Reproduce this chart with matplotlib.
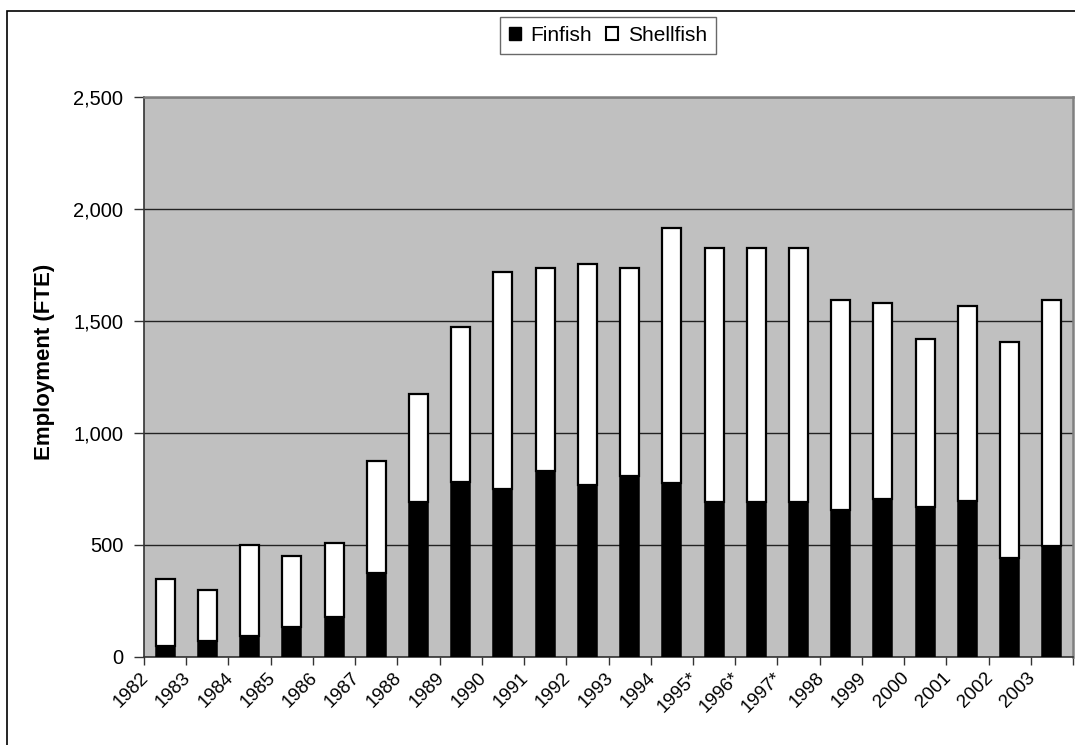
import matplotlib
matplotlib.use("Agg")
import matplotlib.pyplot as plt
import matplotlib.transforms as mtransforms
from matplotlib.patches import Rectangle, Patch
from matplotlib.ticker import FuncFormatter
import numpy as np

years = ["1982", "1983", "1984", "1985", "1986", "1987", "1988", "1989",
         "1990", "1991", "1992", "1993", "1994", "1995*", "1996*", "1997*",
         "1998", "1999", "2000", "2001", "2002", "2003"]
finfish = [50, 70, 95, 135, 180, 375, 690, 780, 750, 830, 770, 810, 775,
           690, 690, 690, 655, 705, 670, 695, 440, 495]
total = [350, 300, 500, 450, 510, 875, 1175, 1475, 1720, 1735, 1755, 1735,
         1915, 1825, 1825, 1825, 1595, 1580, 1420, 1565, 1405, 1595]
shellfish = [t - f for t, f in zip(total, finfish)]
y_ticks = [0, 500, 1000, 1500, 2000, 2500]

plt.rcParams["font.family"] = ["Liberation Sans", "DejaVu Sans"]

W, H = 1075, 745
fig = plt.figure(figsize=(W / 100, H / 100), dpi=100)
ax = fig.add_axes([144 / W, 1 - 657 / H, (1073 - 144) / W, (657 - 97) / H])
ax.set_facecolor("#c0c0c0")

x = np.arange(len(years))
w = 0.45
ax.bar(x, finfish, width=w, color="black", edgecolor="black", linewidth=1.1, zorder=3)
ax.bar(x, shellfish, bottom=finfish, width=w, color="white", edgecolor="black",
       linewidth=1.6, zorder=3)

ax.set_xlim(-0.5, len(years) - 0.5)
ax.set_ylim(0, 2500)
ax.set_yticks(y_ticks)
ax.yaxis.set_major_formatter(FuncFormatter(lambda v, p: f"{int(v):,}"))
ax.yaxis.grid(True, color="#222222", linewidth=1.0, zorder=1)
ax.set_axisbelow(True)

# Tick marks on the category boundaries; each year label hangs from the
# boundary to the left of its bar.
bounds = np.arange(len(years) + 1) - 0.5
ax.set_xticks(bounds)
ax.set_xticklabels([])
label_tf = ax.get_xaxis_transform() + mtransforms.ScaledTranslation(
    2 / 100, -18 / 100, fig.dpi_scale_trans)
for pos, year in zip(bounds[:-1], years):
    ax.text(pos, 0, year, transform=label_tf, rotation=45,
            rotation_mode="anchor", ha="right", va="center", fontsize=13.5)

ax.tick_params(axis="x", direction="out", length=6, width=1, color="#333333")
ax.tick_params(axis="y", direction="out", length=7, width=1, color="#333333",
               labelsize=14.5, pad=8)

for side in ("left", "bottom"):
    ax.spines[side].set_color("#333333")
    ax.spines[side].set_linewidth(1.2)
for side in ("top", "right"):
    ax.spines[side].set_color("#808080")
    ax.spines[side].set_linewidth(1.8)

fig.text(45 / W, 1 - 362 / H, "Employment (FTE)", rotation=90,
         fontsize=16, fontweight="bold", ha="center", va="center")

handles = [Patch(facecolor="black", edgecolor="black", linewidth=1),
           Patch(facecolor="white", edgecolor="black", linewidth=1.5)]
leg = fig.legend(handles, ["Finfish", "Shellfish"], loc="center",
                 bbox_to_anchor=(608 / W, 1 - 35.5 / H), ncol=2,
                 fontsize=15, frameon=True, fancybox=False, shadow=False,
                 handlelength=0.58, handleheight=0.58, handletextpad=0.48,
                 columnspacing=0.67, borderpad=0.43, borderaxespad=0)
leg.get_frame().set_edgecolor("#444444")
leg.get_frame().set_linewidth(1.0)

# Outer chart frame
fig.patches.append(Rectangle((7 / W, -0.1), 1.2, (H - 11) / H + 0.1,
                             transform=fig.transFigure, fill=False,
                             edgecolor="black", linewidth=1.2))

fig.savefig("out.png", dpi=100)
